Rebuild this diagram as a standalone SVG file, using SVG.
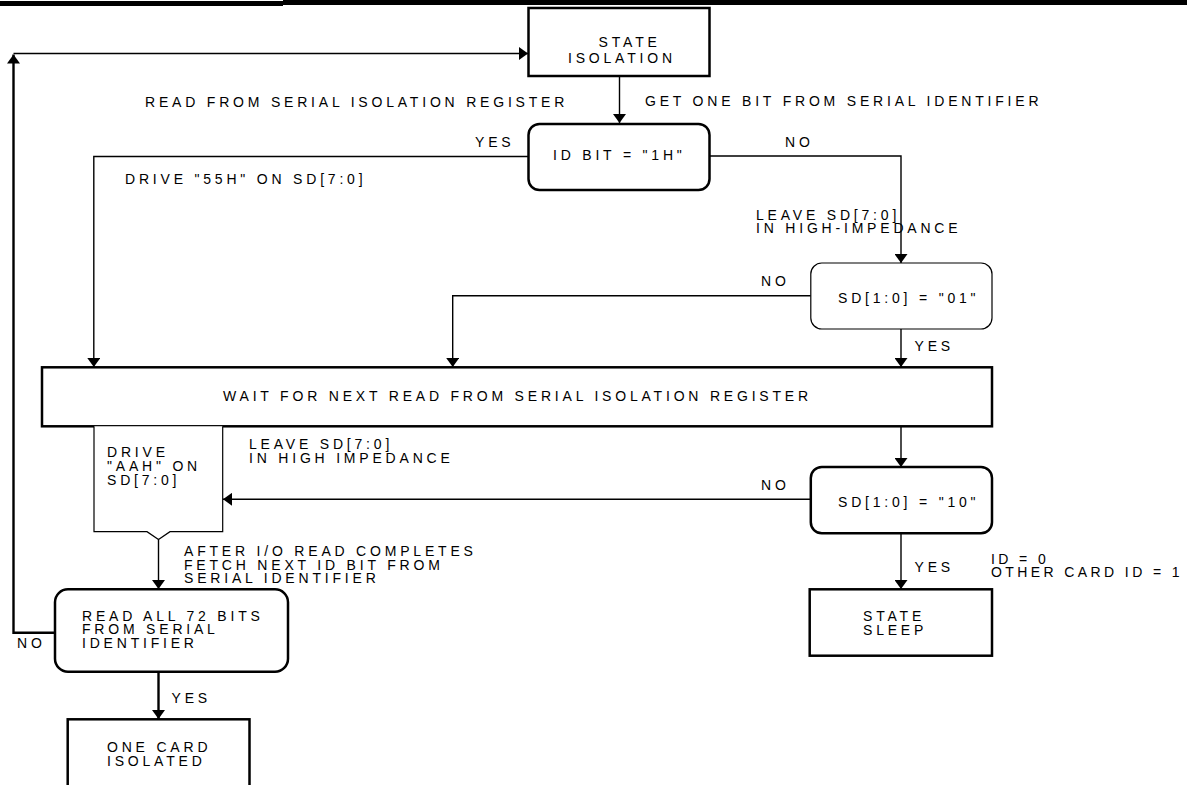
<svg xmlns="http://www.w3.org/2000/svg" width="1187" height="785" viewBox="0 0 1187 785">
<style>
text{font-family:"Liberation Sans",Arial,Helvetica,sans-serif;font-size:14px;letter-spacing:3.8px;fill:#000}
.box{fill:#fff;stroke:#000;stroke-width:2.5}
.thin{fill:#fff;stroke:#000;stroke-width:1.2}
.c{fill:none;stroke:#000;stroke-width:1.4}
.ct{fill:none;stroke:#000;stroke-width:2.4}
</style>
<defs>
<marker id="ah" viewBox="0 0 9 13" refX="9" refY="6.5" markerWidth="9" markerHeight="13" orient="auto" markerUnits="userSpaceOnUse">
<path d="M0,0 L9,6.5 L0,13 z" fill="#000"/>
</marker>
</defs>
<rect x="283" y="0" width="904" height="5" fill="#000"/>
<rect x="0" y="1" width="283" height="5" fill="#000"/>

<g id="connectors">
<path class="ct" d="M54.7,632.7 H13.5 V54.5" marker-end="url(#ah)"/>
<path class="c" d="M13.5,53.5 H528" marker-end="url(#ah)"/>
<path class="c" d="M619.5,76 V123" marker-end="url(#ah)"/>
<path class="c" d="M528.5,156.5 H93.8 V367" marker-end="url(#ah)"/>
<path class="c" d="M709.5,156 H901 V263" marker-end="url(#ah)"/>
<path class="c" d="M810.8,295.7 H452.7 V367" marker-end="url(#ah)"/>
<path class="c" d="M901,329 V367" marker-end="url(#ah)"/>
<path class="c" d="M901,427 V467" marker-end="url(#ah)"/>
<path class="c" d="M810.8,499.3 H223" marker-end="url(#ah)"/>
<path class="c" d="M158.5,539.5 V589" marker-end="url(#ah)"/>
<path class="ct" d="M158.5,672 V719" marker-end="url(#ah)"/>
<path class="c" d="M901,533 V589" marker-end="url(#ah)"/>
</g>

<g id="state-isolation">
<rect class="box" x="528.5" y="8" width="181" height="68"/>
<text x="598.6" y="47">STATE</text>
<text x="568" y="63">ISOLATION</text>
</g>

<g id="id-bit">
<rect class="box" x="528.5" y="124" width="181" height="66" rx="11"/>
<text x="553" y="160">ID BIT = "1H"</text>
</g>

<g id="sd01">
<rect class="thin" x="810.8" y="263" width="181.2" height="66" rx="11"/>
<text x="838" y="303">SD[1:0] = "01"</text>
</g>

<g id="wait">
<rect class="box" x="42" y="367.3" width="950" height="59"/>
<text x="223" y="401">WAIT FOR NEXT READ FROM SERIAL ISOLATION REGISTER</text>
</g>

<g id="drive-aah">
<path class="thin" d="M94,426.3 V531.7 H147 L158.5,539.5 L170,531.7 H222.7 V426.3"/>
<text x="107" y="457">DRIVE</text>
<text x="107" y="471">"AAH" ON</text>
<text x="107" y="485">SD[7:0]</text>
</g>

<g id="sd10">
<rect class="box" x="810.8" y="467" width="181.2" height="66.3" rx="11"/>
<text x="838" y="507">SD[1:0] = "10"</text>
</g>

<g id="read-all">
<rect class="box" x="55" y="589.3" width="233" height="82.4" rx="13"/>
<text x="82" y="620.5">READ ALL 72 BITS</text>
<text x="82" y="634">FROM SERIAL</text>
<text x="82" y="647.5">IDENTIFIER</text>
</g>

<g id="state-sleep">
<rect class="box" x="809.7" y="589.3" width="182.3" height="66.4"/>
<text x="863" y="620.5">STATE</text>
<text x="863" y="635">SLEEP</text>
</g>

<g id="one-card">
<rect class="box" x="67.7" y="719.3" width="181.8" height="75"/>
<text x="107" y="751.5">ONE CARD</text>
<text x="107" y="765.5">ISOLATED</text>
</g>

<g id="labels">
<text x="145" y="106.7">READ FROM SERIAL ISOLATION REGISTER</text>
<text x="645" y="106">GET ONE BIT FROM SERIAL IDENTIFIER</text>
<text x="475" y="146.7">YES</text>
<text x="785" y="147">NO</text>
<text x="125" y="183.5">DRIVE "55H" ON SD[7:0]</text>
<text x="756" y="220">LEAVE SD[7:0]</text>
<text x="756" y="233">IN HIGH-IMPEDANCE</text>
<text x="761" y="286">NO</text>
<text x="914.5" y="351">YES</text>
<text x="249" y="449">LEAVE SD[7:0]</text>
<text x="249" y="462.5">IN HIGH IMPEDANCE</text>
<text x="761" y="490">NO</text>
<text x="184" y="556">AFTER I/O READ COMPLETES</text>
<text x="184" y="569.5">FETCH NEXT ID BIT FROM</text>
<text x="184" y="583">SERIAL IDENTIFIER</text>
<text x="17" y="647.5">NO</text>
<text x="171.5" y="702.5">YES</text>
<text x="914.5" y="572">YES</text>
<text x="991" y="564" style="letter-spacing:3.4px">ID = 0</text>
<text x="991" y="576.5" style="letter-spacing:3.4px">OTHER CARD ID = 1</text>
</g>
</svg>
